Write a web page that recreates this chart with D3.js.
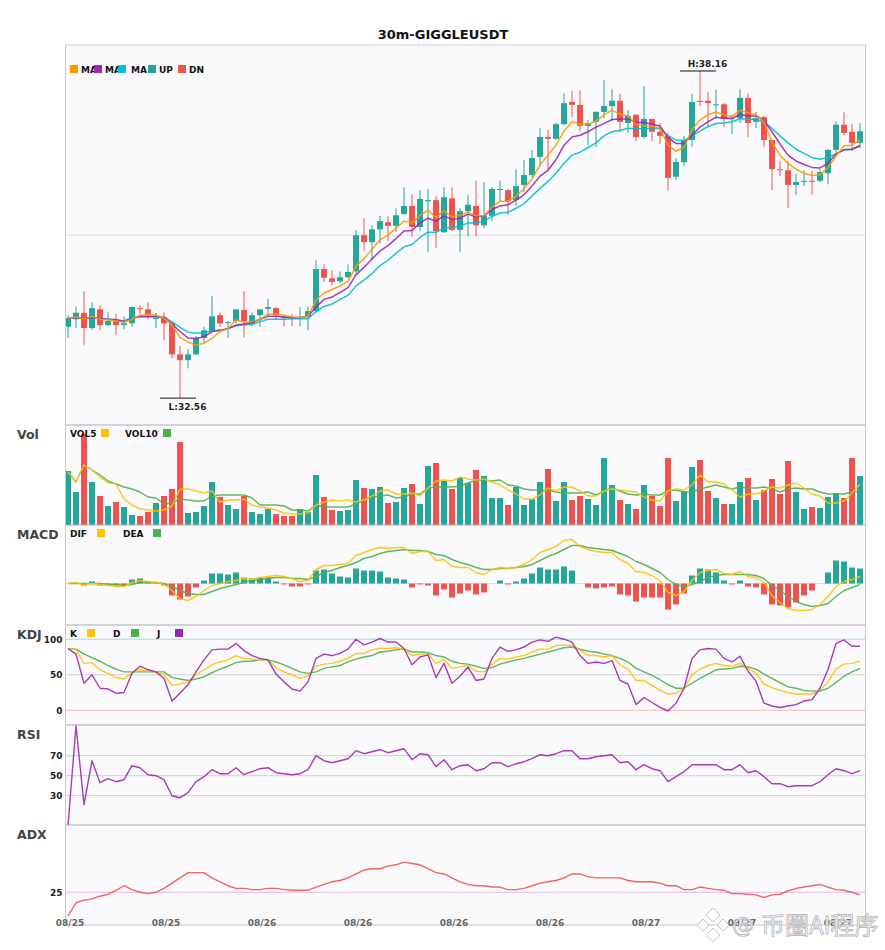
<!DOCTYPE html>
<html>
<head>
<meta charset="utf-8">
<script src="https://cdn.jsdelivr.net/npm/d3@7"></script>
<style>
  body { margin: 0; background: #fff; }
  text { font-family: "DejaVu Sans", sans-serif; }
</style>
</head>
<body>
<div id="chart"></div>
<script>
// Candles
const open = [33.78,33.91,34.02,33.76,34.08,33.81,33.88,33.81,33.84,34.10,34.08,33.92,33.95,33.84,33.31,33.21,33.31,33.59,33.71,33.98,33.85,33.88,34.07,33.83,33.98,34.09,34.10,33.95,33.95,33.93,33.95,34.05,34.77,34.61,34.56,34.63,34.73,35.35,35.23,35.45,35.57,35.51,35.71,35.85,35.49,35.93,35.95,35.40,35.98,35.44,35.76,35.85,35.52,35.68,36.13,36.12,35.95,36.21,36.38,36.69,37.03,37.00,37.25,37.63,37.58,37.22,37.29,37.46,37.56,37.65,37.27,37.41,37.03,37.34,37.12,37.05,36.35,36.60,36.98,37.65,37.65,37.58,37.59,37.34,37.35,37.70,37.29,37.37,36.98,36.48,36.46,36.21,36.27,36.28,36.28,36.41,36.81,37.24,37.12,36.93];
const high = [33.98,34.13,34.39,34.20,34.15,34.03,34.00,33.96,34.13,34.15,34.20,34.02,34.03,33.86,33.45,33.40,33.62,33.78,34.31,34.03,33.88,34.08,34.39,34.03,34.08,34.26,34.12,33.98,34.00,34.12,34.13,34.92,34.85,34.75,34.73,34.85,35.44,35.64,35.52,35.68,35.68,35.81,36.17,36.05,36.12,36.14,36.02,36.17,36.17,35.81,36.04,36.28,36.26,36.17,36.28,36.14,36.48,36.64,36.81,37.18,37.15,37.27,37.78,37.82,37.83,37.32,37.47,38.01,37.85,37.77,37.49,37.42,37.90,37.34,37.27,37.10,36.67,37.05,37.77,38.16,37.80,37.84,37.61,37.41,37.85,37.78,37.46,37.39,36.98,36.62,36.62,36.40,36.46,36.45,36.48,36.82,37.30,37.46,37.25,37.27];
const low = [33.59,33.76,33.47,33.73,33.72,33.79,33.64,33.74,33.78,34.00,33.91,33.76,33.55,33.24,32.56,33.07,33.30,33.50,33.69,33.78,33.59,33.84,33.60,33.79,33.78,33.95,33.91,33.79,33.79,33.79,33.72,34.03,34.55,34.49,34.53,34.61,34.68,35.08,34.92,35.20,35.25,35.40,35.71,35.32,35.42,35.06,35.13,35.39,35.42,35.06,35.33,35.33,35.47,35.59,35.92,35.69,35.85,36.09,36.34,36.52,36.46,36.98,37.23,37.37,37.13,36.89,36.86,37.35,37.30,37.12,37.10,36.96,37.01,36.96,36.91,36.11,36.29,36.53,36.86,37.56,37.22,37.34,37.20,37.08,37.27,37.03,37.18,36.86,36.12,36.36,35.81,36.04,36.19,36.04,36.26,36.22,36.76,37.06,36.79,36.84];
const close = [33.93,34.02,33.76,34.10,33.81,33.88,33.81,33.84,34.12,34.09,33.98,33.93,33.84,33.31,33.21,33.31,33.59,33.72,33.96,33.84,33.86,34.08,33.88,33.98,34.08,34.12,33.98,33.93,33.93,33.94,34.05,34.77,34.62,34.55,34.63,34.72,35.35,35.23,35.45,35.59,35.51,35.69,35.85,35.49,35.97,35.95,35.42,36.00,35.44,35.76,35.87,35.52,35.69,36.14,36.14,35.93,36.19,36.38,36.67,37.03,37.00,37.25,37.61,37.58,37.22,37.27,37.46,37.56,37.65,37.29,37.39,37.03,37.34,37.12,37.05,36.33,36.60,36.98,37.63,37.63,37.61,37.59,37.34,37.35,37.70,37.27,37.35,36.98,36.48,36.47,36.21,36.26,36.28,36.27,36.43,36.81,37.24,37.10,36.93,37.13];

// Moving averages
const ma1 = [33.93,33.95,33.91,33.96,33.91,33.90,33.88,33.86,33.91,33.98,33.99,33.98,33.93,33.81,33.60,33.52,33.47,33.50,33.58,33.70,33.75,33.90,33.86,33.87,33.91,34.00,34.00,33.98,33.95,33.94,33.96,34.24,34.36,34.42,34.48,34.56,34.82,34.95,35.11,35.27,35.35,35.47,35.59,35.56,35.69,35.78,35.65,35.77,35.66,35.69,35.74,35.68,35.68,35.83,35.93,35.93,36.02,36.15,36.31,36.55,36.72,36.89,37.13,37.29,37.25,37.25,37.30,37.41,37.49,37.42,37.39,37.25,37.22,37.22,37.18,36.89,36.79,36.85,37.16,37.32,37.41,37.46,37.41,37.38,37.49,37.44,37.41,37.29,36.94,36.72,36.58,36.48,36.41,36.37,36.38,36.51,36.70,36.88,36.89,36.98];
const ma2 = [33.93,33.94,33.92,33.94,33.92,33.91,33.90,33.87,33.92,33.96,33.96,33.96,33.94,33.83,33.70,33.59,33.58,33.61,33.70,33.72,33.75,33.81,33.83,33.85,33.91,33.96,33.96,33.95,33.94,33.94,33.96,34.12,34.25,34.29,34.37,34.45,34.67,34.80,34.94,35.08,35.17,35.29,35.42,35.43,35.56,35.64,35.59,35.68,35.62,35.64,35.71,35.66,35.68,35.79,35.85,35.87,35.95,36.04,36.19,36.36,36.46,36.64,36.89,37.03,37.06,37.12,37.20,37.26,37.33,37.34,37.34,37.28,37.28,37.25,37.22,37.02,36.92,36.92,37.06,37.20,37.29,37.37,37.35,37.35,37.42,37.39,37.39,37.31,37.12,36.91,36.72,36.62,36.56,36.51,36.50,36.58,36.74,36.81,36.82,36.88];
const ma3 = [33.93,33.94,33.92,33.93,33.92,33.91,33.90,33.88,33.94,33.95,33.95,33.95,33.94,33.87,33.77,33.69,33.67,33.68,33.71,33.72,33.75,33.80,33.81,33.82,33.87,33.91,33.91,33.91,33.92,33.92,33.92,34.04,34.13,34.17,34.25,34.32,34.48,34.58,34.69,34.83,34.92,35.04,35.15,35.19,35.31,35.40,35.40,35.47,35.49,35.50,35.56,35.56,35.59,35.67,35.73,35.74,35.81,35.89,36.02,36.15,36.27,36.41,36.58,36.72,36.77,36.85,36.93,37.05,37.12,37.14,37.18,37.17,37.17,37.18,37.17,37.05,36.98,36.97,37.05,37.13,37.21,37.26,37.27,37.29,37.34,37.34,37.33,37.29,37.18,37.05,36.93,36.82,36.75,36.68,36.65,36.68,36.74,36.81,36.82,36.88];

// Volume panel (no axis in the picture, so relative units)
const volume = [54,33,91,43,29,19,23,18,10,9,13,22,29,36,83,12,13,19,43,28,20,16,29,13,11,16,11,9,9,16,13,50,28,15,14,15,45,37,36,38,22,23,37,41,21,59,62,44,36,47,42,55,49,27,27,20,38,20,26,43,56,24,43,25,29,26,20,67,40,25,21,16,40,29,19,67,24,34,58,65,34,27,21,21,43,47,25,35,46,31,64,33,16,18,17,28,32,27,67,49];
const vol5 = [53,43,60,55,48,42,41,26,20,16,15,14,15,19,36,36,34,32,34,23,25,25,26,20,18,17,15,12,11,11,12,20,23,25,24,25,23,25,29,34,35,31,31,32,29,37,44,45,44,48,46,45,46,43,40,35,31,26,26,30,37,34,38,38,34,29,29,34,36,35,34,33,28,25,24,34,36,35,40,50,43,43,41,35,28,31,31,34,38,37,40,42,37,31,29,22,22,24,32,41];
const vol10 = [53,43,60,55,50,44,41,38,36,33,28,27,21,22,26,25,24,24,29,30,30,30,30,27,20,20,20,19,15,15,14,20,18,18,18,18,21,25,28,29,30,27,28,31,31,37,38,38,38,39,42,45,45,44,45,40,39,36,35,35,35,33,32,32,32,33,30,34,37,34,31,30,31,30,30,34,35,33,33,36,38,40,38,36,38,37,37,38,36,33,36,37,36,36,33,31,31,31,33,34];

// MACD panel
const dif = [0,0.01,-0.01,0,-0.01,-0.02,-0.03,-0.03,0.01,0.03,0.02,0.01,-0.01,-0.07,-0.15,-0.17,-0.13,-0.07,-0.02,0,0.02,0.03,0.05,0.04,0.06,0.07,0.08,0.07,0.05,0.02,0.03,0.14,0.18,0.18,0.19,0.20,0.28,0.31,0.34,0.36,0.35,0.36,0.36,0.30,0.32,0.32,0.23,0.24,0.17,0.16,0.16,0.11,0.09,0.14,0.16,0.15,0.16,0.19,0.24,0.31,0.34,0.37,0.43,0.44,0.37,0.34,0.32,0.31,0.31,0.24,0.20,0.12,0.11,0.08,0.03,-0.09,-0.12,-0.08,0.03,0.11,0.13,0.14,0.10,0.09,0.12,0.07,0.06,0.01,-0.12,-0.19,-0.25,-0.27,-0.27,-0.26,-0.21,-0.13,-0.03,0.02,0.04,0.07];
const dea = [0,0,0,0,0,-0.01,-0.01,-0.02,-0.01,0.01,0.01,0.01,0,-0.03,-0.07,-0.10,-0.11,-0.11,-0.08,-0.05,-0.03,-0.01,0.01,0.03,0.04,0.05,0.06,0.06,0.05,0.05,0.04,0.07,0.11,0.13,0.16,0.18,0.21,0.25,0.27,0.30,0.32,0.33,0.34,0.33,0.33,0.32,0.29,0.28,0.24,0.21,0.19,0.16,0.14,0.14,0.15,0.15,0.16,0.17,0.19,0.23,0.27,0.30,0.34,0.38,0.38,0.36,0.35,0.34,0.33,0.30,0.27,0.22,0.19,0.15,0.11,0.04,-0.01,-0.03,-0.01,0.02,0.06,0.08,0.09,0.09,0.09,0.09,0.08,0.05,-0.02,-0.07,-0.13,-0.18,-0.21,-0.23,-0.22,-0.20,-0.13,-0.07,-0.04,-0.01];
const hist = [0,0,-0.02,0.02,-0.02,-0.01,-0.02,-0.02,0.04,0.05,0.01,0.01,-0.02,-0.12,-0.16,-0.13,-0.04,0.03,0.10,0.10,0.09,0.11,0.06,0.05,0.06,0.06,0.02,-0.01,-0.03,-0.03,-0.01,0.13,0.14,0.10,0.07,0.06,0.15,0.13,0.13,0.12,0.06,0.05,0.04,-0.04,-0.01,-0.02,-0.12,-0.06,-0.14,-0.10,-0.07,-0.11,-0.09,0,0.03,-0.01,0.02,0.05,0.10,0.16,0.14,0.14,0.17,0.13,0,-0.04,-0.05,-0.04,-0.03,-0.11,-0.12,-0.18,-0.14,-0.14,-0.14,-0.26,-0.21,-0.10,0.08,0.15,0.14,0.11,0.03,-0.01,0.03,-0.03,-0.04,-0.11,-0.21,-0.22,-0.24,-0.19,-0.12,-0.07,0,0.11,0.23,0.22,0.16,0.15];

// KDJ panel
const kLine = [87,85,66,67,57,52,46,44,53,57,55,54,50,35,37,40,50,57,64,68,71,77,73,72,71,71,60,54,50,45,48,62,65,66,69,73,80,80,85,87,87,88,86,77,79,79,66,72,59,61,63,55,54,64,73,72,75,77,82,86,86,91,92,91,85,77,77,75,77,64,58,42,42,35,28,23,24,31,50,58,63,66,63,62,66,59,52,37,32,28,25,23,23,23,28,40,58,65,66,69];
const dLine = [87,86,79,74,69,63,58,54,54,54,54,54,54,46,44,42,44,47,53,58,62,67,69,69,71,71,68,64,59,54,52,54,59,61,63,68,72,75,77,82,83,85,86,82,82,81,77,75,69,66,65,62,59,60,65,68,71,73,76,79,82,85,88,89,86,83,82,79,77,73,68,59,54,49,43,36,31,31,38,45,51,57,58,59,62,61,58,51,45,39,33,31,28,27,27,31,39,48,54,59];
const jLine = [87,79,38,50,31,30,24,25,52,62,57,54,45,13,24,36,54,71,85,86,86,94,84,77,73,71,51,40,30,27,40,73,79,77,80,86,100,92,96,101,96,96,87,64,75,78,46,66,38,48,61,42,44,73,89,83,85,89,96,99,97,103,100,96,77,66,68,66,70,42,37,8,18,11,4,-1,10,31,73,85,87,86,73,68,76,55,41,10,6,4,6,8,13,15,31,57,94,99,90,90];

// RSI panel
const rsi = [0,100,21,65,43,47,44,46,60,58,51,50,46,30,28,33,44,49,56,52,52,58,51,54,57,58,53,52,51,52,56,70,65,63,65,67,75,72,74,76,73,75,77,66,72,71,59,66,56,60,61,55,57,63,63,59,62,64,67,71,70,72,75,75,67,67,69,70,71,63,64,56,61,57,55,44,49,54,61,61,61,61,56,56,61,53,55,49,42,42,39,40,40,40,44,51,57,55,52,55];

// ADX panel
const adx = [7,17,19,20,22,23.5,26.5,30,27,25,24,25,28,32,36,40,40,40,36,33,30,28,28,27,27,28,28,27,26.5,26.5,26.5,29,31,33,34,36,39,42,43,43,45,46,48,47,46,43,40,39,36,33,31,30,30,29,29,27,27,28,30,32,33,34,36,39,39,37,36,36,36,36,34,33,33,33,32,30,30,27,27,29,28,27,26.5,24,24,23.5,23,21,23,23.5,26,28,29,30,31,29,27,26.5,25,23];

const xLabels = ['08/25','08/25','08/26','08/26','08/26','08/26','08/27','08/27','08/27'];
const xTickIndex = [0,12,24,36,48,60,72,84,96];

const width = 885, height = 950;
const left = 65.5, right = 865.5;
const UP = '#26a69a', DN = '#ef5350';
const ORANGE = '#ff9800', PURPLE = '#9c27b0', CYAN = '#00bcd4', YELLOW = '#ffc107', GREEN = '#4caf50';

const svg = d3.select('#chart').append('svg')
    .attr('width', width).attr('height', height)
    .style('display', 'block');

const x = d3.scaleBand().domain(d3.range(close.length)).range([64, 864]);
const cx = i => x(i) + x.bandwidth() / 2;

// One panel: background, clip and a group to draw in
const defs = svg.append('defs');
function addPanel(name, top, bottom) {
    svg.append('rect').attr('x', left).attr('y', top).attr('width', right - left).attr('height', bottom - top)
        .attr('fill', '#fafafc');
    defs.append('clipPath').attr('id', 'clip-' + name).append('rect')
        .attr('x', left).attr('y', top).attr('width', right - left).attr('height', bottom - top);
    return svg.append('g').attr('clip-path', `url(#clip-${name})`);
}

function refLine(g, y, value, color) {
    g.append('line').attr('x1', left).attr('x2', right).attr('y1', y(value)).attr('y2', y(value))
        .attr('stroke', color).attr('stroke-width', 1);
}

function drawLine(g, values, y, color, w) {
    const line = d3.line().x((d, i) => cx(i)).y(d => y(d));
    g.append('path').datum(values).attr('d', line)
        .attr('fill', 'none').attr('stroke', color).attr('stroke-width', w || 1.4)
        .attr('stroke-opacity', 0.9).attr('stroke-linejoin', 'round');
}

function legend(items, y) {
    items.forEach(it => {
        if (it.text) {
            svg.append('text').attr('x', it.x).attr('y', y + 7.6).text(it.text)
                .attr('font-size', 9).attr('font-weight', 'bold').attr('fill', '#111');
        } else {
            svg.append('rect').attr('x', it.x).attr('y', y).attr('width', 8).attr('height', 8).attr('fill', it.color);
        }
    });
}

function yAxis(y, ticks) {
    const g = svg.append('g').attr('transform', `translate(${left},0)`)
        .call(d3.axisLeft(y).tickValues(ticks).tickSize(0).tickPadding(3));
    g.select('.domain').remove();
    g.selectAll('text').attr('font-size', 9).attr('font-weight', 'bold').attr('fill', '#222')
        .attr('font-family', '"DejaVu Sans", sans-serif');
}

// Main candle panel
const yPrice = d3.scaleLinear().domain([32.10, 38.605]).range([425, 45]);
const main = addPanel('main', 45, 425);
refLine(main, yPrice, 35.35, '#dedee2');

main.selectAll('line.wick').data(close).enter().append('line').attr('class', 'wick')
    .attr('x1', (d, i) => cx(i)).attr('x2', (d, i) => cx(i))
    .attr('y1', (d, i) => yPrice(high[i])).attr('y2', (d, i) => yPrice(low[i]))
    .attr('stroke', (d, i) => close[i] >= open[i] ? UP : DN).attr('stroke-width', 1);
main.selectAll('rect.body').data(close).enter().append('rect').attr('class', 'body')
    .attr('x', (d, i) => cx(i) - 3).attr('width', 6)
    .attr('y', (d, i) => yPrice(Math.max(open[i], close[i])))
    .attr('height', (d, i) => Math.max(1, Math.abs(yPrice(open[i]) - yPrice(close[i]))))
    .attr('fill', (d, i) => close[i] >= open[i] ? UP : DN);

drawLine(main, ma3, yPrice, CYAN, 1.5);
drawLine(main, ma2, yPrice, PURPLE, 1.5);
drawLine(main, ma1, yPrice, ORANGE, 1.5);

// High / low markers
const hi = d3.maxIndex(high), lo = d3.minIndex(low);
[{ i: hi, label: 'H:' + high[hi].toFixed(2), dy: -3.5 }, { i: lo, label: 'L:' + low[lo].toFixed(2), dy: 12 }].forEach(m => {
    const my = yPrice(m.i === hi ? high[m.i] : low[m.i]);
    main.append('line').attr('x1', cx(m.i) - 20).attr('x2', cx(m.i) + 16).attr('y1', my).attr('y2', my)
        .attr('stroke', '#111').attr('stroke-width', 1);
    main.append('text').attr('x', cx(m.i) + 7.5).attr('y', my + m.dy).text(m.label)
        .attr('text-anchor', 'middle').attr('font-size', 9).attr('font-weight', 'bold').attr('fill', '#222');
});

legend([
    { x: 81, text: 'MA' }, { x: 70, color: ORANGE },
    { x: 105, text: 'MA' }, { x: 94, color: PURPLE },
    { x: 131, text: 'MA' }, { x: 118, color: CYAN },
    { x: 159, text: 'UP' }, { x: 148, color: UP },
    { x: 189, text: 'DN' }, { x: 178, color: DN }
], 65);

// Volume
const yVol = d3.scaleLinear().domain([0, 100]).range([525, 425]);
const volG = addPanel('vol', 425, 525);
volG.selectAll('rect').data(volume).enter().append('rect')
    .attr('x', (d, i) => cx(i) - 3).attr('width', 6)
    .attr('y', d => yVol(d)).attr('height', d => yVol(0) - yVol(d))
    .attr('fill', (d, i) => close[i] >= open[i] ? UP : DN);
drawLine(volG, vol10, yVol, GREEN);
drawLine(volG, vol5, yVol, YELLOW);
legend([{ x: 70, text: 'VOL5' }, { x: 101, color: YELLOW }, { x: 125, text: 'VOL10' }, { x: 163, color: GREEN }], 429);

// MACD
const yMacd = d3.scaleLinear().domain([-0.415, 0.585]).range([625, 525]);
const macdG = addPanel('macd', 525, 625);
refLine(macdG, yMacd, 0, '#dcdce0');
macdG.selectAll('rect').data(hist).enter().append('rect')
    .attr('x', (d, i) => cx(i) - 3).attr('width', 6)
    .attr('y', d => Math.min(yMacd(d), yMacd(0)))
    .attr('height', d => Math.abs(yMacd(d) - yMacd(0)))
    .attr('fill', d => d >= 0 ? UP : DN);
drawLine(macdG, dea, yMacd, GREEN);
drawLine(macdG, dif, yMacd, YELLOW);
legend([{ x: 70, text: 'DIF' }, { x: 97, color: YELLOW }, { x: 123, text: 'DEA' }, { x: 153, color: GREEN }], 529);

// KDJ
const yKdj = d3.scaleLinear().domain([-20.7, 120]).range([725, 625]);
const kdjG = addPanel('kdj', 625, 725);
refLine(kdjG, yKdj, 100, '#a5dcd6');
refLine(kdjG, yKdj, 50, '#d2d2d6');
refLine(kdjG, yKdj, 0, '#fbb9b8');
drawLine(kdjG, dLine, yKdj, GREEN);
drawLine(kdjG, kLine, yKdj, YELLOW);
drawLine(kdjG, jLine, yKdj, PURPLE);
yAxis(yKdj, [0, 50, 100]);
legend([{ x: 70, text: 'K' }, { x: 87, color: YELLOW }, { x: 113, text: 'D' }, { x: 131, color: GREEN }, { x: 157, text: 'J' }, { x: 175, color: PURPLE }], 629);

// RSI
const yRsi = d3.scaleLinear().domain([0, 100]).range([825.7, 725.7]);
const rsiG = addPanel('rsi', 725, 825);
refLine(rsiG, yRsi, 70, '#a5dcd6');
refLine(rsiG, yRsi, 50, '#d2d2d6');
refLine(rsiG, yRsi, 30, '#fbb9b8');
drawLine(rsiG, rsi, yRsi, PURPLE);
yAxis(yRsi, [30, 50, 70]);

// ADX
const yAdx = d3.scaleLinear().domain([0, 76.4]).range([925, 825]);
const adxG = addPanel('adx', 825, 925);
refLine(adxG, yAdx, 25, '#e2b8ea');
drawLine(adxG, adx, yAdx, DN);
yAxis(yAdx, [25]);

// Frame and separators
svg.append('path').attr('d', `M${left},45H${right}`).attr('stroke', '#cfcfd6').attr('fill', 'none');
[425, 525, 625, 725, 825].forEach(py => {
    svg.append('line').attr('x1', left).attr('x2', right).attr('y1', py).attr('y2', py).attr('stroke', '#aaaab0');
});
svg.append('line').attr('x1', left).attr('x2', right).attr('y1', 925).attr('y2', 925).attr('stroke', '#c8c8ce');
[left, right].forEach(px => {
    svg.append('line').attr('x1', px).attr('x2', px).attr('y1', 45).attr('y2', 925).attr('stroke', '#c8c8ce');
});

// Time axis
const xAxis = svg.append('g').attr('transform', 'translate(2,925)')
    .call(d3.axisBottom(x).tickValues(xTickIndex).tickSize(0).tickPadding(0)
        .tickFormat((d, i) => xLabels[i]));
xAxis.select('.domain').remove();
xAxis.selectAll('text').attr('font-size', 9).attr('font-weight', 'bold').attr('fill', '#666')
    .attr('font-family', '"DejaVu Sans", sans-serif').attr('dy', '0.15em').attr('y', 0);

// Title and panel names
svg.append('text').attr('x', 443).attr('y', 39).attr('text-anchor', 'middle').text('30m-GIGGLEUSDT')
    .attr('font-size', 13).attr('font-weight', 'bold').attr('fill', '#111');
[['Vol', 439], ['MACD', 539], ['KDJ', 639], ['RSI', 739], ['ADX', 839]].forEach(d => {
    svg.append('text').attr('x', 17).attr('y', d[1]).text(d[0])
        .attr('font-size', 12.5).attr('font-weight', 'bold').attr('fill', '#444');
});

// Watermark in the picture's bottom right corner
const mark = svg.append('g').attr('fill', '#fff').attr('fill-opacity', 0.75).attr('stroke', '#bdbdc0').attr('stroke-width', 0.9);
[[713, 915, 7], [703, 925, 6], [723, 925, 6], [713, 935, 7]].forEach(p => {
    mark.append('path').attr('d', `M${p[0]},${p[1] - p[2]}L${p[0] + p[2]},${p[1]}L${p[0]},${p[1] + p[2]}L${p[0] - p[2]},${p[1]}Z`);
});
mark.append('text').attr('x', 732).attr('y', 933).text('@')
    .attr('font-size', 22);
mark.append('text').attr('x', 761).attr('y', 934).text('币圈AI程序')
    .attr('font-size', 24).style('font-family', '"Noto Sans CJK SC", sans-serif');
</script>
</body>
</html>
